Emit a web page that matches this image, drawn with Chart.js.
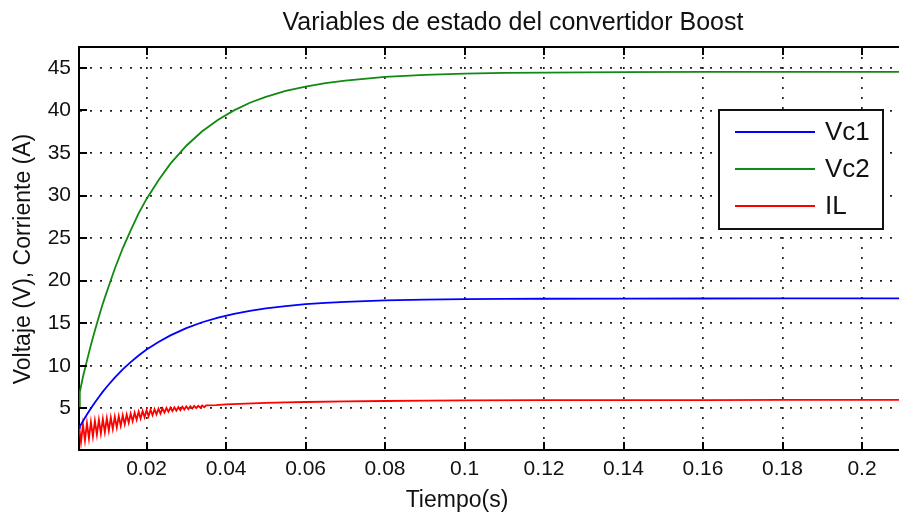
<!DOCTYPE html>
<html>
<head>
<meta charset="utf-8">
<script src="https://cdn.jsdelivr.net/npm/chart.js@4/dist/chart.umd.min.js"></script>
<style>
  html, body { margin: 0; padding: 0; background: #fff; }
  #wrap { width: 899px; height: 518px; position: relative; overflow: hidden; }
</style>
</head>
<body>
<div id="wrap"><canvas id="c" width="899" height="518"></canvas></div>
<script>
// Text
const titleText = 'Variables de estado del convertidor Boost';
const xTitle = 'Tiempo(s)';
const yTitle = 'Voltaje (V), Corriente (A)';
const seriesNames = ['Vc1', 'Vc2', 'IL'];

// Axis ticks
const xTickValues = [0.02, 0.04, 0.06, 0.08, 0.1, 0.12, 0.14, 0.16, 0.18, 0.2];
const xTickLabels = ['0.02', '0.04', '0.06', '0.08', '0.1', '0.12', '0.14', '0.16', '0.18', '0.2'];
const yTickValues = [5, 10, 15, 20, 25, 30, 35, 40, 45];
const yTickLabels = ['5', '10', '15', '20', '25', '30', '35', '40', '45'];

// Capacitor voltages (V) over time (s)
const tVc = [0.003, 0.0032, 0.004, 0.005, 0.006, 0.007, 0.008, 0.009, 0.010, 0.012,
             0.014, 0.016, 0.018, 0.020, 0.023, 0.026, 0.030, 0.034, 0.038, 0.042,
             0.046, 0.050, 0.055, 0.060, 0.065, 0.070, 0.080, 0.090, 0.100, 0.110,
             0.120, 0.140, 0.160, 0.180, 0.200, 0.210];
const vc1 = [2.7, 2.85, 3.5, 4.27, 5.0, 5.69, 6.33, 6.96, 7.53, 8.61,
             9.57, 10.43, 11.2, 11.9, 12.8, 13.57, 14.42, 15.11, 15.65, 16.1,
             16.45, 16.73, 17.01, 17.23, 17.39, 17.51, 17.67, 17.77, 17.82, 17.85,
             17.87, 17.89, 17.9, 17.91, 17.92, 17.92];
const vc2 = [5.2, 6.9, 8.7, 10.6, 12.45, 14.15, 15.75, 17.3, 18.7, 21.4,
             23.8, 25.9, 27.9, 29.6, 31.8, 33.75, 35.85, 37.55, 38.9, 40.0,
             40.9, 41.6, 42.3, 42.8, 43.2, 43.5, 43.94, 44.17, 44.31, 44.4,
             44.45, 44.5, 44.52, 44.53, 44.53, 44.53];

// Inductor current (A) over time (s), with switching ripple at start-up
const tIL = [0.003, 0.0035, 0.004, 0.0045, 0.005, 0.0055, 0.006, 0.0065, 0.007, 0.0075,
             0.008, 0.0085, 0.009, 0.0095, 0.010, 0.0105, 0.011, 0.0115, 0.012, 0.0125,
             0.013, 0.0135, 0.014, 0.0145, 0.015, 0.0155, 0.016, 0.0165, 0.017, 0.0175,
             0.018, 0.0185, 0.019, 0.0195, 0.020, 0.0205, 0.021, 0.0215, 0.022, 0.0225,
             0.023, 0.0235, 0.024, 0.0245, 0.025, 0.0255, 0.026, 0.0265, 0.027, 0.0275,
             0.028, 0.0285, 0.029, 0.0295, 0.030, 0.0305, 0.031, 0.0315, 0.032, 0.0325,
             0.033, 0.0335, 0.034, 0.0345, 0.035,
             0.0375, 0.040, 0.045, 0.050, 0.055, 0.060, 0.070, 0.080, 0.090, 0.100,
             0.120, 0.140, 0.160, 0.180, 0.200, 0.210];
const il = [3.0, 1.01, 3.12, 1.23, 3.25, 1.46, 3.39, 1.68, 3.53, 1.9,
            3.65, 2.05, 3.74, 2.2, 3.83, 2.37, 3.92, 2.56, 4.01, 2.75,
            4.09, 2.94, 4.18, 3.13, 4.27, 3.31, 4.38, 3.48, 4.49, 3.65,
            4.6, 3.8, 4.69, 3.95, 4.78, 4.07, 4.83, 4.18, 4.89, 4.29,
            4.94, 4.39, 4.99, 4.5, 5.05, 4.59, 5.08, 4.66, 5.12, 4.72,
            5.15, 4.78, 5.19, 4.85, 5.23, 4.9, 5.25, 4.96, 5.27, 5.02,
            5.29, 5.08, 5.32, 5.13, 5.35,
            5.38, 5.45, 5.55, 5.63, 5.69, 5.74, 5.81, 5.86, 5.9, 5.92,
            5.95, 5.96, 5.97, 5.98, 5.98, 5.98];

const seriesColors = ['#0000ff', '#108a10', '#ff0000'];
const FONT = '"Liberation Sans", Arial, Helvetica, sans-serif';

const toPoints = (t, v) => t.map((ti, i) => ({ x: ti, y: v[i] }));

// Axes frame (top edge, inward tick marks), boxed legend and axis titles
const framePlugin = {
  id: 'frame',
  afterDatasetsDraw(chart) {
    const { ctx, chartArea: a, scales } = chart;
    const xs = scales.x, ys = scales.y;
    ctx.save();
    ctx.strokeStyle = '#000';
    ctx.lineWidth = 2;
    ctx.beginPath();
    ctx.moveTo(a.left - 1, a.top);
    ctx.lineTo(a.right, a.top);
    ctx.stroke();

    const tl = 8;
    ctx.lineWidth = 2;
    ctx.beginPath();
    xTickValues.forEach(v => {
      const px = Math.round(xs.getPixelForValue(v));
      ctx.moveTo(px, a.bottom); ctx.lineTo(px, a.bottom - tl);
      ctx.moveTo(px, a.top); ctx.lineTo(px, a.top + tl);
    });
    yTickValues.forEach(v => {
      const py = Math.round(ys.getPixelForValue(v));
      ctx.moveTo(a.left, py); ctx.lineTo(a.left + tl, py);
    });
    ctx.stroke();

    // legend box
    const bx = a.left + 640, by = a.top + 63, bw = 164, bh = 119;
    ctx.fillStyle = '#fff';
    ctx.fillRect(bx, by, bw, bh);
    ctx.strokeStyle = '#111';
    ctx.lineWidth = 2;
    ctx.strokeRect(bx, by, bw, bh);
    ctx.font = '26px ' + FONT;
    ctx.textBaseline = 'middle';
    ctx.textAlign = 'left';
    chart.data.datasets.forEach((ds, i) => {
      const ly = by + 22 + i * 37;
      ctx.strokeStyle = ds.borderColor;
      ctx.lineWidth = 2;
      ctx.beginPath();
      ctx.moveTo(bx + 16, ly);
      ctx.lineTo(bx + 96, ly);
      ctx.stroke();
      ctx.fillStyle = '#111';
      ctx.fillText(ds.label, bx + 106, ly + 1);
    });
    ctx.restore();
  },
  afterDraw(chart) {
    const { ctx } = chart;
    ctx.save();
    ctx.fillStyle = '#111';
    ctx.textAlign = 'center';
    ctx.textBaseline = 'alphabetic';
    ctx.font = '25px ' + FONT;
    ctx.fillText(titleText, 513, 30);
    ctx.font = '23px ' + FONT;
    ctx.fillText(xTitle, 457, 507);
    ctx.translate(30, 259);
    ctx.rotate(-Math.PI / 2);
    ctx.fillText(yTitle, 0, 0);
    ctx.restore();
  }
};

new Chart(document.getElementById('c'), {
  type: 'line',
  data: {
    datasets: [
      { label: seriesNames[0], data: toPoints(tVc, vc1), borderColor: seriesColors[0] },
      { label: seriesNames[1], data: toPoints(tVc, vc2), borderColor: seriesColors[1] },
      { label: seriesNames[2], data: toPoints(tIL, il), borderColor: seriesColors[2] }
    ]
  },
  options: {
    responsive: false,
    devicePixelRatio: 1,
    animation: false,
    parsing: false,
    layout: { padding: { top: 47, right: 0, bottom: 0, left: 0 } },
    elements: {
      line: { borderWidth: 1.8, tension: 0, fill: false },
      point: { radius: 0, hoverRadius: 0 }
    },
    plugins: { legend: { display: false }, title: { display: false }, tooltip: { enabled: false } },
    scales: {
      x: {
        type: 'linear',
        min: 0.003,
        max: 0.2093,
        afterBuildTicks: s => { s.ticks = xTickValues.map(v => ({ value: v })); },
        afterFit: s => { s.height = 68; },
        ticks: {
          callback: (v, i) => xTickLabels[i],
          autoSkip: false, maxRotation: 0, minRotation: 0,
          padding: 7, color: '#111',
          font: { family: FONT, size: 21 }
        },
        grid: { color: '#222', lineWidth: 1.7, drawTicks: false },
        border: { display: true, color: '#000', width: 2, dash: [2, 8] }
      },
      y: {
        type: 'linear',
        min: 0.1,
        max: 47.45,
        afterBuildTicks: s => { s.ticks = yTickValues.map(v => ({ value: v })); },
        afterFit: s => { s.width = 79; },
        ticks: {
          callback: (v, i) => yTickLabels[i],
          autoSkip: false,
          padding: 8, color: '#111',
          font: { family: FONT, size: 21 }
        },
        grid: { color: '#222', lineWidth: 1.7, drawTicks: false },
        border: { display: true, color: '#000', width: 2, dash: [2, 8] }
      }
    }
  },
  plugins: [framePlugin]
});
</script>
</body>
</html>
